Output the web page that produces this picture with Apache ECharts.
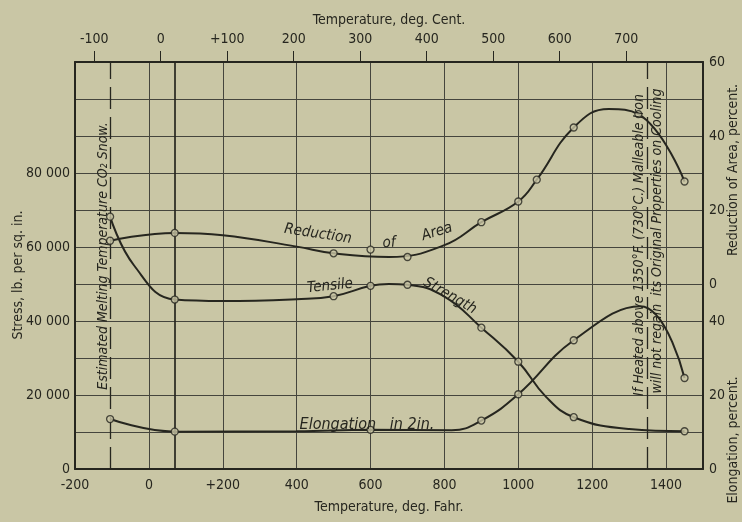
<!DOCTYPE html>
<html><head><meta charset="utf-8">
<script src="https://cdn.jsdelivr.net/npm/echarts@6/dist/echarts.min.js"></script>
<style>html,body{margin:0;padding:0;background:#c9c6a5;}#c{width:742px;height:522px;}</style>
</head><body><div id="c"></div>
<script>
// ---- axis ticks ----
const fahrLabels = [-200, 0, 200, 400, 600, 800, 1000, 1200, 1400];
const centLabels = [-100, 0, 100, 200, 300, 400, 500, 600, 700];
const stressLabels = [0, 20000, 40000, 60000, 80000];
const elongLabels = [0, 20, 40];          // elongation, percent
const reductionLabels = [0, 20, 40, 60];  // reduction of area, percent

// ---- Tensile strength, lb per sq in ----
const tensileMarkF = [-105, 70, 500, 600, 700, 900, 1000, 1150, 1450];
const tensileMarkV = [68200, 45800, 46700, 49500, 49800, 38200, 29000, 14000, 10200];
const tensileCurveF = [-105, -40, 70, 200, 400, 500, 600, 650, 700, 800, 900, 1000, 1075, 1150, 1300, 1450];
const tensileCurveV = [68200, 55000, 45800, 45400, 45900, 46700, 49500, 50000, 49800, 46600, 38200, 29000, 19500, 14000, 10800, 10200];

// ---- Reduction of area, percent ----
const reductionMarkF = [-105, 70, 500, 600, 700, 900, 1000, 1050, 1150, 1325, 1450];
const reductionMarkP = [11.7, 13.8, 8.3, 9.3, 7.3, 16.7, 22.3, 28.2, 42.3, 45.9, 27.7];
const reductionCurveF = [-105, 70, 200, 400, 500, 650, 800, 900, 1000, 1050, 1150, 1245, 1325, 1450];
const reductionCurveP = [11.7, 13.8, 13.2, 10.1, 8.3, 7.3, 10.5, 16.7, 22.3, 28.2, 42.3, 47.3, 45.9, 27.7];

// ---- Elongation in 2 in., percent ----
const elongMarkF = [-105, 70, 600, 900, 1000, 1150, 1450];
const elongMarkP = [13.5, 10.1, 10.6, 13.1, 20.2, 34.8, 24.6];
const elongCurveF = [-105, 70, 400, 600, 820, 900, 1000, 1150, 1330, 1450];
const elongCurveP = [13.5, 10.1, 10.2, 10.6, 10.5, 13.1, 20.2, 34.8, 44.0, 24.6];

// ---- special vertical lines (deg F) ----
const co2LineF = -105;
const roomLineF = 70;
const heatLineF = 1350;

const BG = '#c9c6a5', INK = '#26261f', GRIDC = '#45453d';
const FONT = "'Liberation Sans Narrow','DejaVu Sans Condensed','Liberation Sans',sans-serif";
const toRA = p => 50000 + p * 1000;   // reduction scale: 0% at 50 000
const toEl = p => p * 1000;           // elongation scale: 0% at 0
const f2c = f => (f - 32) * 5 / 9;
const fmtStress = v => v === 0 ? '0' : String(v / 1000) + ' 000';

const rightValues = elongLabels.map(toEl).concat(reductionLabels.map(toRA));
const rightMap = {};
elongLabels.forEach(p => rightMap[toEl(p)] = String(p));
reductionLabels.forEach(p => rightMap[toRA(p)] = String(p));

const chart = echarts.init(document.getElementById('c'));
const lineS = {color: INK, width: 2};
const markS = {color: BG, borderColor: INK, borderWidth: 1.3};

function curve(name, fs, vs) {
  return {type: 'line', name, data: fs.map((f, i) => [f, vs[i]]), smooth: 0.45,
    symbol: 'none', lineStyle: lineS, z: 3, silent: true};
}
function marks(name, fs, vs) {
  return {type: 'scatter', name, data: fs.map((f, i) => [f, vs[i]]), symbol: 'circle', symbolSize: 7,
    itemStyle: markS, z: 5, silent: true};
}

const italic = (text, x, y, rot, size) => ({type: 'text', x, y, rotation: rot, z: 10,
  style: {text, fill: INK, font: 'italic ' + (size || 14) + 'px ' + FONT, align: 'center', verticalAlign: 'middle'}});
const plain = (text, x, y, rot, size) => ({type: 'text', x, y, rotation: rot, z: 10,
  style: {text, fill: INK, font: (size || 13) + 'px ' + FONT, align: 'center', verticalAlign: 'middle'}});

chart.setOption({
  backgroundColor: BG,
  animation: false,
  grid: {left: 75, right: 39, top: 62, bottom: 53, outerBoundsMode: 'none', containLabel: false},
  xAxis: [
    {type: 'value', position: 'bottom', min: -200, max: 1500, interval: 200,
      axisLine: {show: true, onZero: false, lineStyle: {color: INK, width: 2}},
      axisTick: {show: false},
      axisLabel: {color: INK, fontFamily: FONT, fontSize: 14, margin: 9, hideOverlap: false,
        customValues: fahrLabels, formatter: v => v === 200 ? '+200' : String(v)},
      splitLine: {show: true, lineStyle: {color: GRIDC, width: 1}},
      name: 'Temperature, deg. Fahr.', nameLocation: 'middle', nameGap: 31,
      nameTextStyle: {color: INK, fontFamily: FONT, fontSize: 14}},
    {type: 'value', position: 'top', min: f2c(-200), max: f2c(1500),
      axisLine: {show: true, onZero: false, lineStyle: {color: INK, width: 2}},
      axisTick: {show: true, inside: false, length: 11, customValues: centLabels, lineStyle: {color: INK, width: 1}},
      axisLabel: {color: INK, fontFamily: FONT, fontSize: 14, margin: 16,
        customValues: centLabels, formatter: v => v === 100 ? '+100' : String(v)},
      splitLine: {show: false},
      name: 'Temperature, deg. Cent.', nameLocation: 'middle', nameGap: 35,
      nameTextStyle: {color: INK, fontFamily: FONT, fontSize: 14}}
  ],
  yAxis: [
    {type: 'value', position: 'left', min: 0, max: 110000, interval: 10000,
      axisLine: {show: true, onZero: false, lineStyle: {color: INK, width: 2}},
      axisTick: {show: false},
      axisLabel: {color: INK, fontFamily: FONT, fontSize: 14, margin: 5, customValues: stressLabels, formatter: fmtStress},
      splitLine: {show: true, lineStyle: {color: GRIDC, width: 1}}},
    {type: 'value', position: 'right', min: 0, max: 110000, interval: 10000,
      axisLine: {show: true, onZero: false, lineStyle: {color: INK, width: 2}},
      axisTick: {show: false},
      axisLabel: {color: INK, fontFamily: FONT, fontSize: 14, margin: 6, customValues: rightValues,
        formatter: v => rightMap[v] !== undefined ? rightMap[v] : ''},
      splitLine: {show: false}}
  ],
  series: [
    curve('Reduction of Area', reductionCurveF, reductionCurveP.map(toRA)),
    curve('Tensile Strength', tensileCurveF, tensileCurveV),
    curve('Elongation in 2in.', elongCurveF, elongCurveP.map(toEl)),
    marks('Reduction of Area pts', reductionMarkF, reductionMarkP.map(toRA)),
    marks('Tensile Strength pts', tensileMarkF, tensileMarkV),
    marks('Elongation pts', elongMarkF, elongMarkP.map(toEl)),
    {type: 'line', name: 'refs', data: [], silent: true,
      markLine: {symbol: 'none', silent: true, label: {show: false}, animation: false,
        data: [
          {xAxis: co2LineF, lineStyle: {color: INK, width: 1.3, type: [22, 8]}},
          {xAxis: roomLineF, lineStyle: {color: INK, width: 1.7, type: 'solid'}},
          {xAxis: heatLineF, lineStyle: {color: INK, width: 1.3, type: [22, 8]}}
        ]}}
  ],
  graphic: [
    plain('Stress, lb. per sq. in.', 18, 275, Math.PI / 2, 14),
    italic('Reduction', 318, 234, -0.15, 15),
    italic('of', 389, 243, 0.05, 15),
    italic('Area', 437, 232, 0.3, 15),
    italic('Tensile', 330, 286, 0.1, 15),
    italic('Strength', 450, 296, -0.52, 15),
    italic('Elongation   in 2in.', 367, 425, 0, 16),
    italic('Estimated Melting Temperature CO\u2082 Snow.', 103, 256, Math.PI / 2, 14),
    italic('If Heated above 1350\u00b0F. (730\u00b0C.) Malleable Iron', 639, 245, Math.PI / 2, 14),
    italic('will not regain  its Original Properties on Cooling', 657, 241, Math.PI / 2, 14),
    plain('Reduction of Area, percent.', 733, 170, Math.PI / 2, 14),
    plain('Elongation, percent.', 733, 440, Math.PI / 2, 14)
  ]
});
</script></body></html>
